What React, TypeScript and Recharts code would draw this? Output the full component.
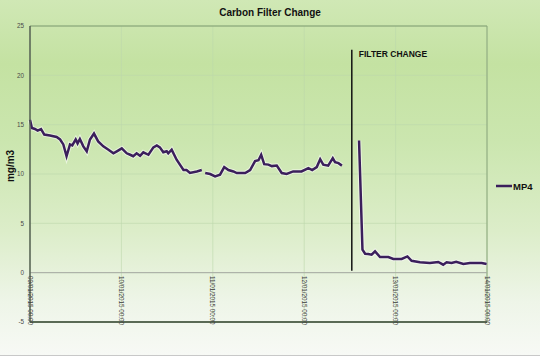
import React from "react";
import {
  LineChart,
  Line,
  XAxis,
  YAxis,
  CartesianGrid,
  ReferenceLine,
} from "recharts";

// hours since 09/01/2015 00:00
const hours = [
  0, 0.5, 1.3, 2, 2.9, 3.75, 5.25, 7, 7.9, 8.75, 9.6, 10.5, 11.1, 12, 12.5,
  13.1, 14, 14.9, 15.75, 16.8, 17.9, 19.25, 20.6, 21.9, 22.8, 24.1, 25.4,
  26.3, 27.1, 28, 28.9, 29.75, 31.1, 32.4, 33.3, 34.1, 35, 35.9, 36.3, 37.2,
  38.5, 40.3, 41.1, 42, 43.8, 45.1, 45.5, 46, 47.3, 48.6, 49.9, 51, 52.1,
  53.4, 54.3, 55.1, 56.5, 57.8, 59.1, 60, 60.7, 61.5, 62.6, 63.5, 64.8,
  66.1, 67.4, 69.1, 71.3, 73.1, 74.1, 75.3, 76.2, 77, 78.3, 79.5, 80.1, 81,
  81.9, 84, 86.4, 87.3, 88, 88.8, 89.7, 90.6, 91.9, 94.1, 95.4, 97.6, 99.1,
  100.2, 102.4, 105, 107.2, 108.5, 109.4, 110.7, 111.9, 113.8, 115.5, 118.6,
  119.9,
];

const mp4 = [
  15.5, 14.66, 14.56, 14.4, 14.56, 14.0, 13.9, 13.75, 13.5, 13.0, 11.8, 13.0,
  12.9, 13.5, 13.1, 13.55, 12.8, 12.3, 13.5, 14.1, 13.3, 12.8, 12.46, 12.1,
  12.3, 12.6, 12.1, 11.95, 11.8, 12.1, 11.85, 12.2, 11.95, 12.7, 12.9, 12.7,
  12.2, 12.3, 12.1, 12.46, 11.45, 10.4, 10.4, 10.1, 10.26, 10.4, null, 10.1,
  10.0, 9.76, 9.93, 10.7, 10.4, 10.26, 10.1, 10.1, 10.1, 10.4, 11.3, 11.4,
  11.95, 11.0, 10.95, 10.8, 10.85, 10.1, 10.0, 10.26, 10.26, 10.6, 10.4, 10.7,
  11.5, 10.95, 10.85, 11.6, 11.2, 11.1, 10.85, null, 13.4, 2.33, 1.92, 1.9,
  1.82, 2.16, 1.59, 1.59, 1.39, 1.39, 1.65, 1.2, 1.05, 0.98, 1.08, 0.81, 1.05,
  0.98, 1.1, 0.88, 0.98, 0.98, 0.88,
];

const xTicks = [0, 24, 48, 72, 96, 120];
const xTickLabels = [
  "09/01/2015 00:00",
  "10/01/2015 00:00",
  "11/01/2015 00:00",
  "12/01/2015 00:00",
  "13/01/2015 00:00",
  "14/01/2015 00:00",
];
const yTicks = [-5, 0, 5, 10, 15, 20, 25];

const filterChangeHour = 84.5;

const data = hours.map((h, i) => ({ h, mp4: mp4[i] }));

const font = "'Liberation Sans', Arial, sans-serif";

const XTick = (props: any) => {
  const { x, y, index } = props;
  const top = y - 46;
  return (
    <text
      x={x}
      y={top}
      transform={`rotate(90, ${x}, ${top})`}
      textAnchor="start"
      dominantBaseline="central"
      fontSize={6.3}
      fill="#3c3c3c"
      fontFamily={font}
    >
      {xTickLabels[index]}
    </text>
  );
};

const FilterLabel = (props: any) => {
  const { viewBox } = props;
  return (
    <text
      x={viewBox.x + 7}
      y={viewBox.y + 7}
      fontSize={8.5}
      fontWeight="bold"
      fill="#111"
      fontFamily={font}
    >
      FILTER CHANGE
    </text>
  );
};

export default function App() {
  return (
    <div
      style={{
        width: 540,
        height: 356,
        position: "relative",
        background:
          "linear-gradient(180deg, #d0e8b5 0%, #c4e2a2 18%, #cbe6af 40%, #dcedc9 65%, #eef5e8 85%, #f7f9f5 100%)",
        borderBottom: "1px solid #c8c8c8",
        boxSizing: "border-box",
      }}
    >
      <style>{`body{margin:0}`}</style>
      <LineChart
        width={540}
        height={356}
        data={data}
        margin={{ top: 26, right: 53, bottom: 4, left: 0 }}
        style={{ position: "absolute", top: 0, left: 0 }}
      >
        <CartesianGrid stroke="#bcd6ab" strokeWidth={0.6} />
        <XAxis
          dataKey="h"
          type="number"
          domain={[0, 120]}
          ticks={xTicks}
          height={30}
          tickLine={false}
          tickSize={0}
          tickMargin={0}
          axisLine={{ stroke: "#5a6a55", strokeWidth: 2 }}
          tick={<XTick />}
          interval={0}
        />
        <YAxis
          type="number"
          domain={[-5, 25]}
          ticks={yTicks}
          width={30}
          tickLine={false}
          tickSize={4}
          axisLine={{ stroke: "#556052", strokeWidth: 1.5 }}
          tick={{ fontSize: 6.3, fill: "#4a4a4a", fontFamily: font }}
          interval={0}
        />
        <ReferenceLine y={25} stroke="#7f9c6e" strokeWidth={1} />
        <ReferenceLine x={120} stroke="#8aa67a" strokeWidth={1} />
        <ReferenceLine y={0} stroke="#a8aaa4" strokeWidth={1} />
        <ReferenceLine
          segment={[
            { x: filterChangeHour, y: 0.2 },
            { x: filterChangeHour, y: 22.6 },
          ]}
          stroke="#111"
          strokeWidth={1.5}
          label={<FilterLabel />}
        />
        <Line
          dataKey="mp4"
          stroke="#ffffff"
          strokeOpacity={0.55}
          strokeWidth={4.5}
          dot={false}
          legendType="none"
          isAnimationActive={false}
          connectNulls={false}
        />
        <Line
          dataKey="mp4"
          name="MP4"
          stroke="#3b1f5c"
          strokeWidth={2.5}
          dot={false}
          isAnimationActive={false}
          connectNulls={false}
        />
      </LineChart>
      <svg
        width={540}
        height={356}
        style={{ position: "absolute", top: 0, left: 0, pointerEvents: "none" }}
      >
        <text
          x={270}
          y={16}
          textAnchor="middle"
          fontSize={10}
          fontWeight="bold"
          fill="#111"
          fontFamily={font}
        >
          Carbon Filter Change
        </text>
        <text
          x={14}
          y={166}
          transform="rotate(-90, 14, 166)"
          textAnchor="middle"
          fontSize={10}
          fontWeight="bold"
          fill="#111"
          fontFamily={font}
        >
          mg/m3
        </text>
        <line x1={496} y1={186} x2={512} y2={186} stroke="#3b1f5c" strokeWidth={2.5} />
        <text
          x={513}
          y={189.5}
          fontSize={9.5}
          fontWeight="bold"
          fill="#111"
          fontFamily={font}
        >
          MP4
        </text>
      </svg>
    </div>
  );
}
